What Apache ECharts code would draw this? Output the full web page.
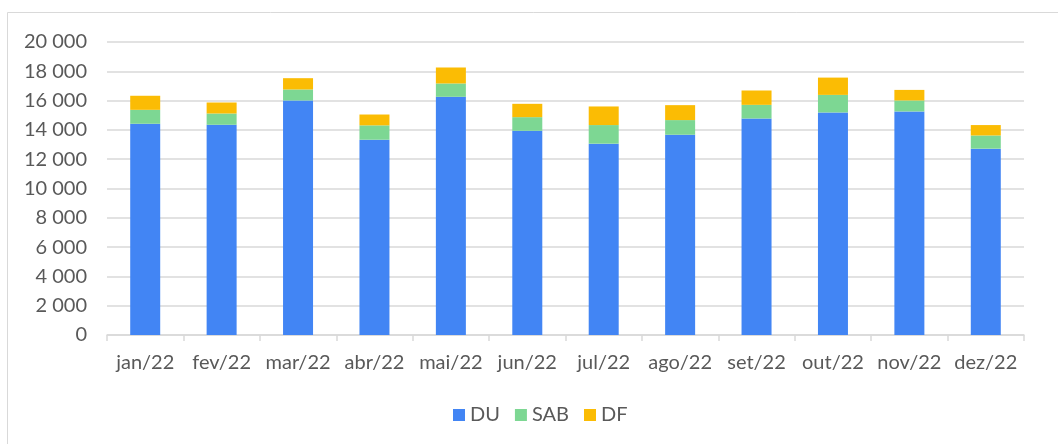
<!DOCTYPE html>
<html>
<head>
<meta charset="utf-8">
<script src="https://cdn.jsdelivr.net/npm/echarts@6/dist/echarts.min.js"></script>
<style>
  html, body { margin: 0; padding: 0; background: #fff; }
  #chart { width: 1058px; height: 444px; }
</style>
</head>
<body>
<div id="chart"></div>
<script>
const months = ['jan/22', 'fev/22', 'mar/22', 'abr/22', 'mai/22', 'jun/22', 'jul/22', 'ago/22', 'set/22', 'out/22', 'nov/22', 'dez/22']
const du = [14420, 14350, 16010, 13330, 16260, 13940, 13060, 13670, 14780, 15190, 15260, 12720]
const sab = [950, 770, 750, 980, 910, 930, 1270, 1000, 930, 1200, 750, 900]
const df = [960, 750, 770, 740, 1090, 910, 1270, 1020, 980, 1180, 720, 710]

const textColor = '#595959'
const font = 'Lato'

const fmt = v => String(v).replace(/\B(?=(\d{3})+(?!\d))/g, ' ')

const myChart = echarts.init(document.getElementById('chart'))
myChart.setOption({
  backgroundColor: '#fff',
  animation: false,
  textStyle: { fontFamily: font, color: textColor },
  graphic: [
    {
      type: 'rect',
      shape: { x: 7.5, y: 12.5, width: 1100, height: 500 },
      style: { fill: 'none', stroke: '#d9d9d9', lineWidth: 1 },
      silent: true
    }
  ],
  grid: { left: 107, right: 34, top: 42, bottom: 109 },
  legend: {
    bottom: 14,
    left: 448,
    itemWidth: 12,
    itemHeight: 12,
    itemGap: 15,
    icon: 'rect',
    textStyle: { fontFamily: font, fontSize: 20, color: textColor },
    data: ['DU', 'SAB', 'DF']
  },
  xAxis: {
    type: 'category',
    data: months,
    axisLine: { lineStyle: { color: '#d9d9d9', width: 1.5 } },
    axisTick: { show: true, length: 6, lineStyle: { color: '#d9d9d9', width: 1.5 } },
    axisLabel: { fontFamily: font, fontSize: 20, color: textColor, margin: 18, interval: 0, hideOverlap: false }
  },
  yAxis: {
    type: 'value',
    min: 0,
    max: 20000,
    interval: 2000,
    axisLine: { show: false },
    axisTick: { show: false },
    splitLine: { lineStyle: { color: '#d9d9d9', width: 1.5 } },
    axisLabel: { fontFamily: font, fontSize: 20, color: textColor, margin: 20, formatter: fmt }
  },
  series: [
    { name: 'DU', type: 'bar', stack: 'total', data: du, barWidth: 30, itemStyle: { color: '#4285f4' } },
    { name: 'SAB', type: 'bar', stack: 'total', data: sab, barWidth: 30, itemStyle: { color: '#7dd793' } },
    { name: 'DF', type: 'bar', stack: 'total', data: df, barWidth: 30, itemStyle: { color: '#fbbc04' } }
  ]
})
</script>
</body>
</html>
